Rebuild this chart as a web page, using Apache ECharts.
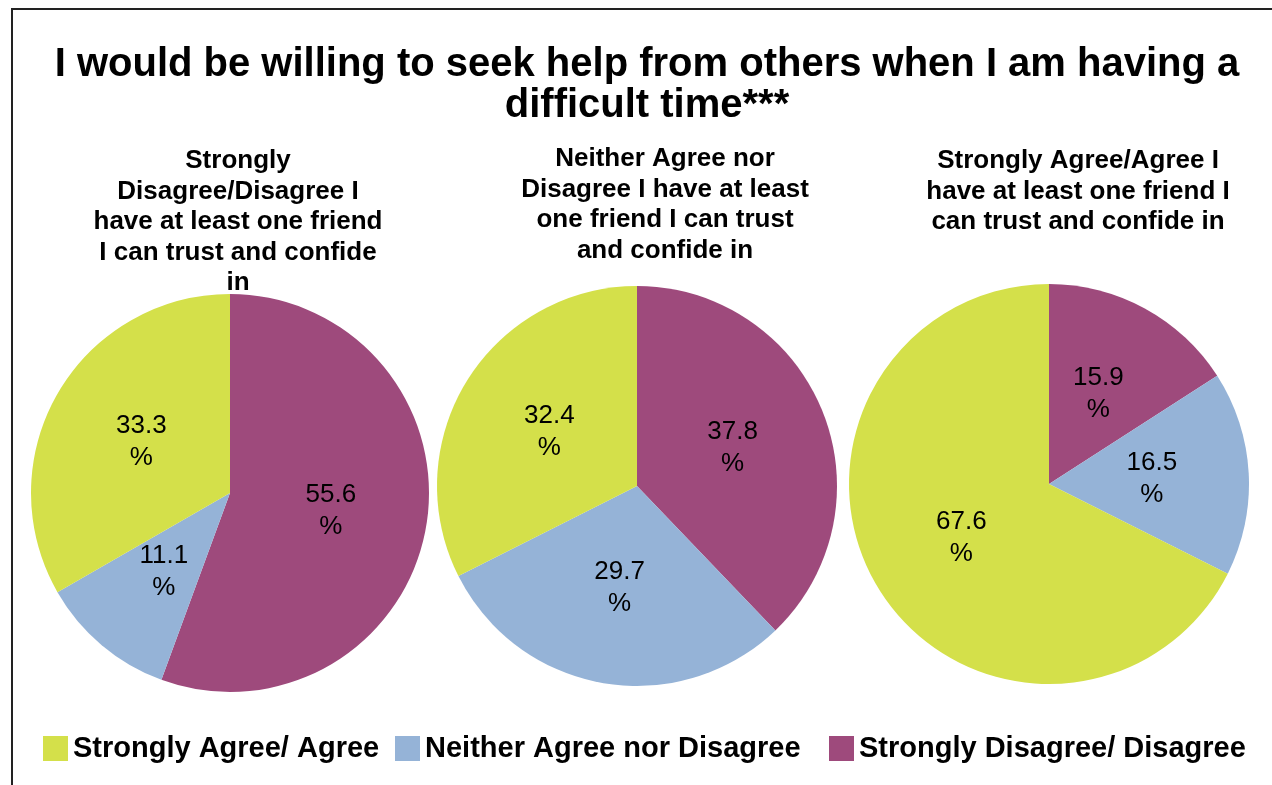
<!DOCTYPE html>
<html>
<head>
    <meta charset="utf-8">
    <title>ECharts</title>
    <script src="https://cdn.jsdelivr.net/npm/echarts@6/dist/echarts.min.js"></script>
    <style>
        html, body { margin: 0; padding: 0; background: #fff; }
    </style>
</head>
<body>
    <div id="main" style="width:1272px;height:785px;"></div>
<script>
var myChart = echarts.init(document.getElementById('main'));

// categories in clockwise order from 12 o'clock
var categories = ['Strongly Disagree/ Disagree', 'Neither Agree nor Disagree', 'Strongly Agree/ Agree'];
var legendOrder = ['Strongly Agree/ Agree', 'Neither Agree nor Disagree', 'Strongly Disagree/ Disagree'];
var colors = ['#9e4a7c', '#95b3d7', '#d4e04a'];

var pieTitles = [
    'Strongly\nDisagree/Disagree I\nhave at least one friend\nI can trust and confide\nin',
    'Neither Agree nor\nDisagree I have at least\none friend I can trust\nand confide in',
    'Strongly Agree/Agree I\nhave at least one friend I\ncan trust and confide in'
];
var groupDisagree = [55.6, 11.1, 33.3];
var groupNeither = [37.8, 29.7, 32.4];
var groupAgree = [15.9, 16.5, 67.6];

var groups = [groupDisagree, groupNeither, groupAgree];
var centers = [[230, 493], [637, 486], [1049, 484]];
var radii = [199, 200, 200];
var titleX = [233, 660, 1073];
var titleTop = [141, 139, 141];

var font = 'Liberation Sans, Arial, sans-serif';

var titles = [{
    text: 'I would be willing to seek help from others when I am having a\ndifficult time***',
    left: 642,
    top: 39,
    textAlign: 'center',
    textStyle: { fontSize: 40, fontWeight: 'bold', color: '#000', fontFamily: font, lineHeight: 41 }
}];
for (var i = 0; i < pieTitles.length; i++) {
    titles.push({
        text: pieTitles[i],
        left: titleX[i],
        top: titleTop[i],
        textAlign: 'center',
        textStyle: { fontSize: 26, fontWeight: 'bold', color: '#000', fontFamily: font, lineHeight: 30.5 }
    });
}

var series = [];
for (var g = 0; g < groups.length; g++) {
    var data = [];
    for (var k = 0; k < categories.length; k++) {
        data.push({ name: categories[k], value: groups[g][k], itemStyle: { color: colors[k] } });
    }
    series.push({
        type: 'pie',
        center: centers[g],
        radius: radii[g],
        startAngle: 90,
        clockwise: true,
        animation: false,
        silent: true,
        data: data,
        label: {
            show: true,
            position: 'inside',
            formatter: '{c}\n%',
            color: '#000',
            fontSize: 26,
            lineHeight: 32,
            fontFamily: font
        },
        labelLine: { show: false },
        itemStyle: { borderWidth: 0 }
    });
}

var legendLeft = [38, 390, 824];
var legends = [];
for (var j = 0; j < legendOrder.length; j++) {
    legends.push({
        data: [legendOrder[j]],
        left: legendLeft[j],
        top: 729,
        icon: 'rect',
        itemWidth: 25,
        itemHeight: 25,
        selectedMode: false,
        textStyle: { fontSize: 29, fontWeight: 'bold', color: '#000', fontFamily: font }
    });
}

var option = {
    backgroundColor: '#fff',
    color: colors,
    title: titles,
    legend: legends,
    series: series,
    graphic: [
        { type: 'line', shape: { x1: 11, y1: 9, x2: 1272, y2: 9 }, style: { stroke: '#222', lineWidth: 2 } },
        { type: 'line', shape: { x1: 12, y1: 9, x2: 12, y2: 785 }, style: { stroke: '#222', lineWidth: 2 } }
    ]
};

myChart.setOption(option);
</script>
</body>
</html>
